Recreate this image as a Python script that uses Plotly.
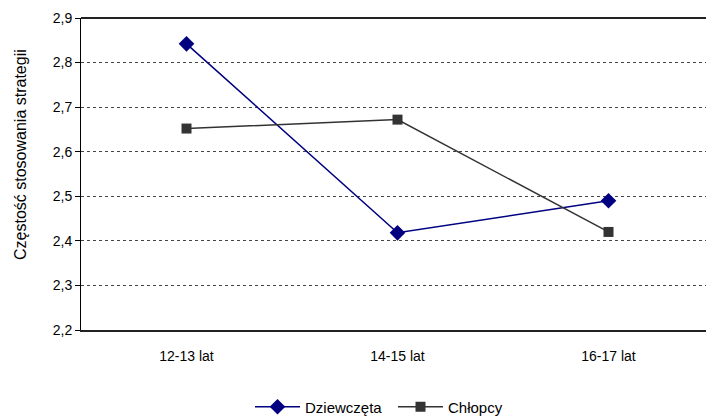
import plotly.graph_objects as go

categories = ["12-13 lat", "14-15 lat", "16-17 lat"]
dziewczeta = [2.842, 2.418, 2.49]
chlopcy = [2.652, 2.672, 2.42]
y_ticks = [2.2, 2.3, 2.4, 2.5, 2.6, 2.7, 2.8, 2.9]

fig = go.Figure()
fig.add_trace(go.Scatter(
    x=categories, y=dziewczeta, name="Dziewczęta", mode="lines+markers",
    line=dict(color="#000080", width=1.5),
    marker=dict(symbol="diamond", size=12, color="#000080"),
))
fig.add_trace(go.Scatter(
    x=categories, y=chlopcy, name="Chłopcy", mode="lines+markers",
    line=dict(color="#333333", width=1.5),
    marker=dict(symbol="square", size=10, color="#333333"),
))

W, H = 706, 408  # page body has an 8px default margin
fig.update_layout(
    width=W, height=H,
    margin=dict(l=73, r=0, t=10, b=86),
    paper_bgcolor="white", plot_bgcolor="white",
    separators=", ",
    font=dict(family="Liberation Sans, Arial, sans-serif", size=13, color="black"),
    showlegend=True,
    legend=dict(orientation="h", xref="container", yref="container",
                x=(250 - 8) / W, xanchor="left", y=1 - (407 - 8) / H, yanchor="middle",
                font=dict(size=15), tracegroupgap=0, itemwidth=45,
                entrywidth=83, entrywidthmode="pixels"),
    xaxis=dict(type="category", range=[-0.5, 2.5], showgrid=False, ticks="",
               showline=True, linecolor="#222222", linewidth=2, automargin=False,
               ticklabelstandoff=12, tickfont=dict(size=14)),
    yaxis=dict(range=[2.2, 2.9], tickvals=y_ticks, tickformat=".1f",
               showgrid=True, gridcolor="#444444", griddash="3px,3px", gridwidth=1,
               showline=True, linecolor="black", linewidth=1, automargin=False,
               ticks="outside", ticklen=5, tickcolor="black",
               zeroline=False, tickfont=dict(size=14)),
    annotations=[dict(text="Częstość stosowania strategii", textangle=-90,
                      xref="paper", yref="paper", x=(20 - 81) / 633, y=(330 - 155) / 312,
                      xanchor="center", yanchor="middle", showarrow=False,
                      font=dict(size=16))],
)
fig.add_shape(type="line", xref="paper", yref="paper", x0=0, x1=1, y0=1, y1=1,
              line=dict(color="#222222", width=2))

fig.write_html("out.html")
